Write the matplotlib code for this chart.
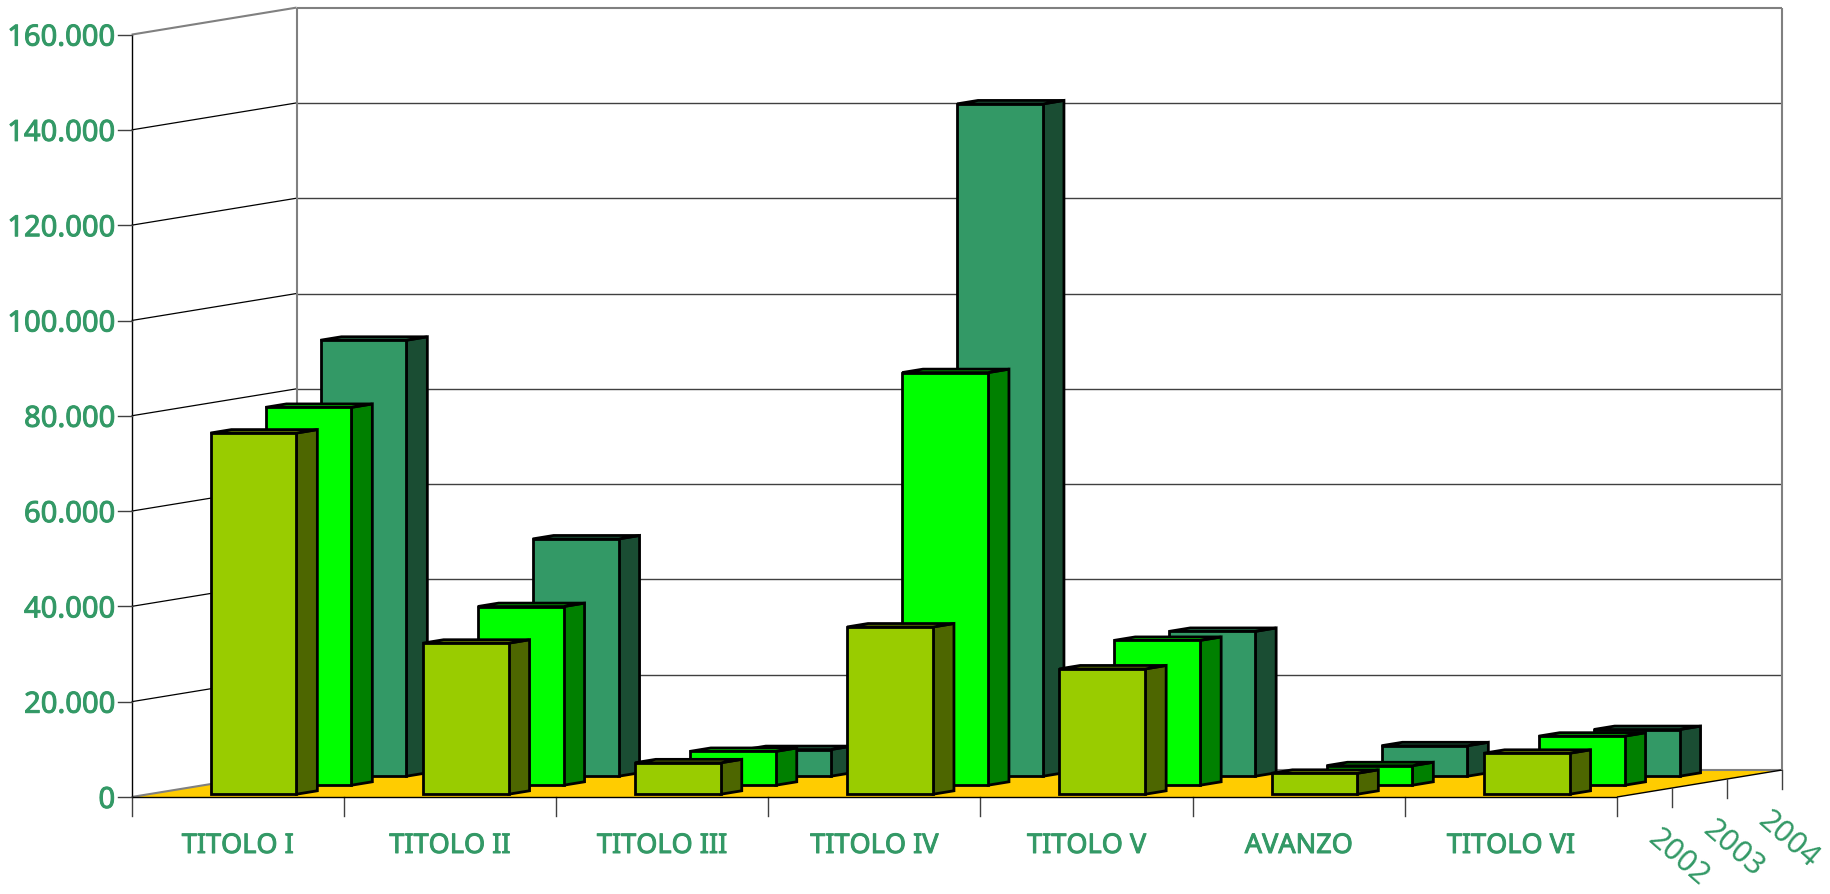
import matplotlib
matplotlib.use('Agg')
import matplotlib.pyplot as plt
import matplotlib.patheffects as pe

# values
categories = ['TITOLO I', 'TITOLO II', 'TITOLO III', 'TITOLO IV', 'TITOLO V', 'AVANZO', 'TITOLO VI']
years = ['2002', '2003', '2004']
values_2002 = [75800, 31700, 6600, 35100, 26300, 4400, 8600]
values_2003 = [79300, 37500, 7100, 86600, 30400, 4100, 10300]
values_2004 = [91500, 49800, 5600, 141100, 30400, 6400, 9800]
y_ticks = [0, 20000, 40000, 60000, 80000, 100000, 120000, 140000, 160000]

# oblique projection: pixels per category / per value, shift per year slot
W, H = 1831, 895
X0, Y0 = 131.6, 798
CAT_PX = 212.2
VAL_PX = 762.4 / 160000
SLOT_X = 55 / CAT_PX
SLOT_Y = 9 / VAL_PX
BAR_W = 0.405
BAR_D = 0.38
BAR_OFF = 0.31

GREEN_TEXT = '#339966'
GREY = '#808080'
DARK = '#404040'
colors = [('#99CC00', '#4D6600', '#7A9900'),
          ('#00FF00', '#008000', '#00CC00'),
          ('#339966', '#1A4D33', '#297A52')]
heavy = [pe.withStroke(linewidth=0.7, foreground=GREEN_TEXT)]


def proj(x, v, d):
    return x + d * SLOT_X, v + d * SLOT_Y


def poly(ax, pts, **kw):
    xy = [proj(*p) for p in pts]
    ax.fill([p[0] for p in xy], [p[1] for p in xy], **kw)


def line(ax, a, b, **kw):
    pa, pb = proj(*a), proj(*b)
    ax.plot([pa[0], pb[0]], [pa[1], pb[1]], solid_capstyle='butt', **kw)


def draw_bar(ax, cat, value, slot, z):
    x0 = cat + (1 - BAR_W) / 2 - 0.006
    x1 = x0 + BAR_W
    d0 = slot + BAR_OFF
    d1 = d0 + BAR_D
    front, side, top = colors[slot]
    style = dict(edgecolor='black', linewidth=2, joinstyle='miter', zorder=z)
    poly(ax, [(x1, 0, d0), (x1, 0, d1), (x1, value, d1), (x1, value, d0)], facecolor=side, **style)
    poly(ax, [(x0, value, d0), (x1, value, d0), (x1, value, d1), (x0, value, d1)], facecolor=top, **style)
    poly(ax, [(x0, 0, d0), (x1, 0, d0), (x1, value, d0), (x0, value, d0)], facecolor=front, **style)


fig = plt.figure(figsize=(W / 100, H / 100), dpi=100)
ax = fig.add_axes([0, 0, 1, 1])
ax.set_xlim(-X0 / CAT_PX, (W - X0) / CAT_PX)
ax.set_ylim((Y0 - H) / VAL_PX, Y0 / VAL_PX)
ax.axis('off')

n = len(categories)
depth = len(years)
top_val = y_ticks[-1]

# floor
poly(ax, [(0, 0, 0), (n, 0, 0), (n, 0, depth), (0, 0, depth)], facecolor='#FFCC00', edgecolor='none')
line(ax, (0, 0, 0), (0, 0, depth), color=GREY, lw=1.5)
line(ax, (0, 0, depth), (n, 0, depth), color=GREY, lw=1.5)
line(ax, (n, 0, 0), (n, 0, depth), color='black', lw=1)

# walls and grid
for v in y_ticks[1:-1]:
    line(ax, (0, v, 0), (0, v, depth), color='black', lw=0.9)
    line(ax, (0, v, depth), (n, v, depth), color=DARK, lw=1)
line(ax, (0, top_val, 0), (0, top_val, depth), color=GREY, lw=1.5)
line(ax, (0, top_val, depth), (n, top_val, depth), color=GREY, lw=1.5)
line(ax, (0, 0, depth), (0, top_val, depth), color=GREY, lw=1.5)
line(ax, (n, 0, depth), (n, top_val, depth), color=GREY, lw=1.5)
line(ax, (0, 0, 0), (0, top_val, 0), color='black', lw=1)

# ticks
tick_x = 14 / CAT_PX
tick_y = 19 / VAL_PX
for v in y_ticks:
    ax.plot([-tick_x, 0], [v, v], color=DARK, lw=1)
    ax.text(-16.5 / CAT_PX, v, f'{v:,}'.replace(',', '.'), ha='right', va='center_baseline',
            color=GREEN_TEXT, fontsize=21, family=['Noto Sans'], path_effects=heavy)
for i in range(n + 1):
    ax.plot([i, i], [0, -tick_y], color=DARK, lw=1)
for d in range(1, depth + 1):
    px, pv = proj(n, 0, d)
    ax.plot([px, px], [pv, pv - tick_y], color=DARK, lw=1)

# bars, back row first
series = [values_2002, values_2003, values_2004]
z = 3
for slot in range(depth - 1, -1, -1):
    for cat in range(n):
        draw_bar(ax, cat, series[slot][cat], slot, z)
        z += 1

# front edge of the floor sits over the bars' feet
line(ax, (0, 0, 0), (n, 0, 0), color='black', lw=1, zorder=z)

# labels
for i, name in enumerate(categories):
    ax.text(i + 0.5, -49 / VAL_PX, name, ha='center', va='center', color=GREEN_TEXT,
            fontsize=19.5, family=['Noto Sans'], path_effects=heavy)
for d, year in enumerate(years):
    px, pv = proj(n, 0, d + 0.5)
    ax.text(px + 34 / CAT_PX, pv - 64 / VAL_PX, year, ha='center', va='center', rotation=-41,
            rotation_mode='anchor', color=GREEN_TEXT, fontsize=22, family=['Noto Sans'])

fig.savefig('out.png', dpi=100, facecolor='white')
